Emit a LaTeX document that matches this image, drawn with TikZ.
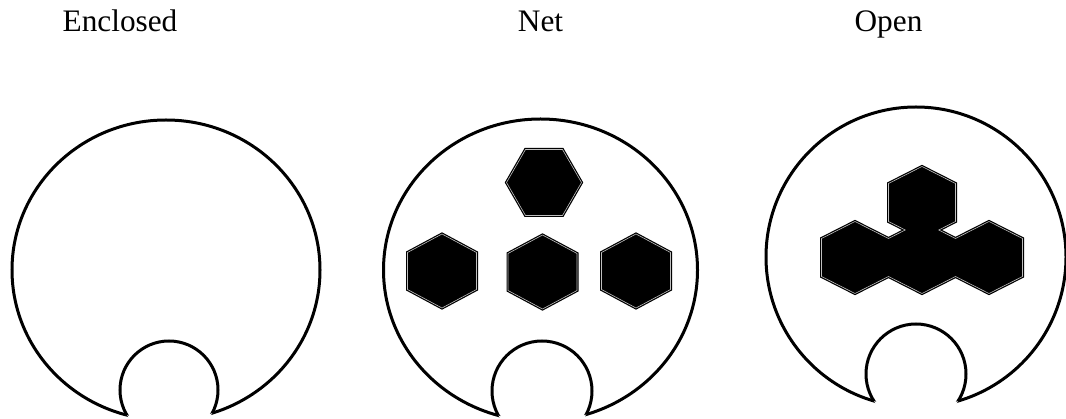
\documentclass[tikz,border=0pt]{standalone}
\usepackage{fontspec}
\setmainfont{Liberation Serif}
\begin{document}
\begin{tikzpicture}[x=1pt,y=-1pt,
  outline/.style={draw=black,line width=3pt},
  hexa/.style={fill=black,draw=black,line width=1.2pt,double=white!75!black,double distance=0.6pt,line join=miter},
  title/.style={anchor=base,inner sep=0pt,font=\fontsize{31.3}{36}\selectfont}]
\fill[white] (0,0) rectangle (1066,419);
\useasboundingbox (0,0) rectangle (1066,419);

% titles
\node[title] (t1) at (120,32) {Enclosed};
\node[title] (t2) at (540.5,32) {Net};
\node[title] (t3) at (888.5,32) {Open};

% ---- shape 1: Enclosed
\coordinate (O1) at (166,270);
\coordinate (N1) at (169,390);
\draw[outline] (O1) ellipse [x radius=154pt, y radius=150pt];
\fill[white] (N1) circle [radius=49pt];
\begin{scope}
  \clip (O1) ellipse [x radius=154pt, y radius=150pt];
  \draw[outline] (N1) circle [radius=49pt];
\end{scope}

% ---- shape 2: Net
\coordinate (O2) at (540.5,270);
\coordinate (N2) at (542,391);
\draw[outline] (O2) ellipse [x radius=157pt, y radius=151pt];
\fill[white] (N2) circle [radius=50pt];
\begin{scope}
  \clip (O2) ellipse [x radius=157pt, y radius=151pt];
  \draw[outline] (N2) circle [radius=50pt];
\end{scope}
\draw[hexa] (506.5,182.5) -- (525.5,149.5) -- (562.5,149.5) -- (581.5,182.5) -- (562.5,215.5) -- (525.5,215.5) -- cycle;
\foreach \cx/\cy in {442/271, 542.5/272, 636/271}{
  \draw[hexa] (\cx,\cy-37) -- (\cx+34.5,\cy-18.5) -- (\cx+34.5,\cy+18.5) -- (\cx,\cy+37) -- (\cx-34.5,\cy+18.5) -- (\cx-34.5,\cy-18.5) -- cycle;
}

% ---- shape 3: Open
\coordinate (O3) at (916,257);
\coordinate (N3) at (916,374);
\draw[outline] (O3) circle [radius=150pt];
\fill[white] (N3) circle [radius=50pt];
\begin{scope}
  \clip (O3) circle [radius=150pt];
  \draw[outline] (N3) circle [radius=50pt];
\end{scope}
\draw[hexa] (855,221.5) -- (888.5,238.5) -- (905.25,230) -- (888.5,221.5) -- (888.5,183.5) -- (922,166.5) -- (955.5,183.5) -- (955.5,221.5) -- (938.75,230) -- (955.5,238.5) -- (989,221.5) -- (1022.5,238.5) -- (1022.5,276.5) -- (989,293.5) -- (955.5,276.5) -- (922,293.5) -- (888.5,276.5) -- (855,293.5) -- (821.5,276.5) -- (821.5,238.5) -- cycle;
\end{tikzpicture}
\end{document}
